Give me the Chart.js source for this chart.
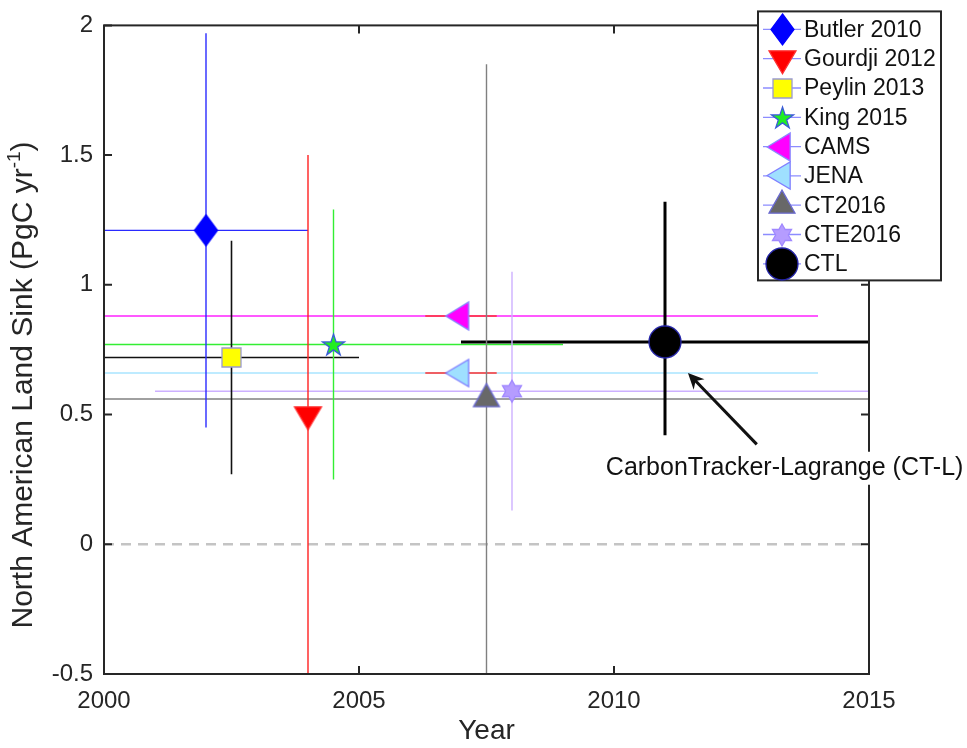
<!DOCTYPE html>
<html>
<head>
<meta charset="utf-8">
<script src="https://cdn.jsdelivr.net/npm/chart.js@4.4.1/dist/chart.umd.min.js"></script>
<style>
  html, body { margin: 0; padding: 0; background: #fff; }
  canvas { display: block; }
</style>
</head>
<body>
<canvas id="sink" width="967" height="748"></canvas>
<script>
// ---- Estimates of the North American land carbon sink ----
const studies    = ['Butler 2010', 'Gourdji 2012', 'Peylin 2013', 'King 2015', 'CAMS', 'JENA', 'CT2016', 'CTE2016', 'CTL'];
const centerYear = [2002, 2004, 2002.5, 2004.5, 2007, 2007, 2007.5, 2008, 2011];
const sinkMean   = [1.21, 0.50, 0.72, 0.77, 0.88, 0.66, 0.56, 0.59, 0.78];
const sinkLow    = [0.45, -0.50, 0.27, 0.25, null, null, -0.73, 0.13, 0.42];
const sinkHigh   = [1.97, 1.50, 1.17, 1.29, null, null, 1.85, 1.05, 1.32];
const periodFrom = [2000, null, 2000, 2000, 2000, 2000, 2000, 2001, 2007];
const periodTo   = [2004, null, 2005, 2009, 2014, 2014, 2015, 2015, 2015];
// short red spans around the CAMS and JENA estimates
const spanFrom   = [null, null, null, null, 2006.3, 2006.3, null, null, null];
const spanTo     = [null, null, null, null, 2007.7, 2007.7, null, null, null];

const xTickValues = [2000, 2005, 2010, 2015];
const yTickValues = [-0.5, 0, 0.5, 1, 1.5, 2];
const xRange = [2000, 2015];
const yRange = [-0.5, 2];

const annotationText = 'CarbonTracker-Lagrange (CT-L)';
const arrowTail = { x: 2012.8, y: 0.385 };
const arrowHead = { x: 2011.45, y: 0.66 };
const annotationAnchor = { x: 2009.84, y: 0.295 };

// ---- styles ----
const FONT = '"Liberation Sans", Arial, Helvetica, sans-serif';
const AXIS_INK = '#262626';
const styles = [
  { shape: 'diamond', w: 23, h: 31, fill: '#0000ff', edge: '#0000ff', line: '#2a2aff', lw: 1.4 },
  { shape: 'triDown', w: 27, h: 23, fill: '#ff0000', edge: '#ff3030', line: '#ff2020', lw: 1.4 },
  { shape: 'square',  w: 19, h: 19, fill: '#ffff00', edge: '#9a9ad0', line: '#111111', lw: 1.6 },
  { shape: 'star5',   w: 23, h: 23, fill: '#22ee22', edge: '#3a5ad8', line: '#33ee33', lw: 1.4 },
  { shape: 'triLeft', w: 23, h: 28, fill: '#ff00ff', edge: '#8a8aff', line: '#ff22ff', lw: 1.4 },
  { shape: 'triLeft', w: 23, h: 27, fill: '#9fe0ff', edge: '#8080ff', line: '#a8e4ff', lw: 1.4 },
  { shape: 'triUp',   w: 26, h: 23, fill: '#686868', edge: '#6a6ad0', line: '#808080', lw: 1.4 },
  { shape: 'star6',   w: 22, h: 22, fill: '#b59cff', edge: '#a088ff', line: '#cdb0ff', lw: 1.4 },
  { shape: 'circle',  w: 32, h: 32, fill: '#000000', edge: '#2424a8', line: '#000000', lw: 3 }
];

function starPath(g, cx, cy, n, R, r) {
  for (let k = 0; k < 2 * n; k++) {
    const rad = k % 2 ? r : R;
    const a = -Math.PI / 2 + k * Math.PI / n;
    const px = cx + rad * Math.cos(a), py = cy + rad * Math.sin(a);
    if (k) g.lineTo(px, py); else g.moveTo(px, py);
  }
}

// Builds a marker image; triangles are placed so their centroid is the image centre.
function markerCanvas(s) {
  const pad = 3;
  let cw = s.w + 2 * pad, ch = s.h + 2 * pad;
  if (s.shape === 'triDown' || s.shape === 'triUp') ch = Math.round(s.h * 4 / 3) + 2 * pad;
  if (s.shape === 'triLeft') cw = Math.round(s.w * 4 / 3) + 2 * pad;
  const c = document.createElement('canvas');
  c.width = cw; c.height = ch;
  const g = c.getContext('2d');
  const cx = cw / 2, cy = ch / 2, w = s.w, h = s.h;
  g.beginPath();
  switch (s.shape) {
    case 'diamond':
      g.moveTo(cx, cy - h / 2); g.lineTo(cx + w / 2, cy); g.lineTo(cx, cy + h / 2); g.lineTo(cx - w / 2, cy); break;
    case 'square':
      g.rect(cx - w / 2, cy - h / 2, w, h); break;
    case 'circle':
      g.arc(cx, cy, w / 2, 0, Math.PI * 2); break;
    case 'triDown':
      g.moveTo(cx - w / 2, cy - h / 3); g.lineTo(cx + w / 2, cy - h / 3); g.lineTo(cx, cy + 2 * h / 3); break;
    case 'triUp':
      g.moveTo(cx, cy - 2 * h / 3); g.lineTo(cx + w / 2, cy + h / 3); g.lineTo(cx - w / 2, cy + h / 3); break;
    case 'triLeft':
      g.moveTo(cx - 2 * w / 3, cy); g.lineTo(cx + w / 3, cy - h / 2); g.lineTo(cx + w / 3, cy + h / 2); break;
    case 'star5':
      starPath(g, cx, cy + 1, 5, w / 2, w / 2 * 0.382); break;
    case 'star6':
      starPath(g, cx, cy, 6, w / 2, w / 2 * 0.577); break;
  }
  g.closePath();
  g.fillStyle = s.fill; g.fill();
  g.lineWidth = 1.3; g.strokeStyle = s.edge; g.stroke();
  return c;
}

// ---- datasets ----
const datasets = [];
studies.forEach((name, i) => {
  datasets.push({
    label: name,
    data: [{ x: centerYear[i], y: sinkMean[i] }],
    pointStyle: markerCanvas(styles[i]),
    pointRadius: 12,
    showLine: false,
    order: 0,
    isMarker: true
  });
});

function segment(label, pts, color, width, order, dash) {
  return {
    label, data: pts, showLine: true, borderColor: color, borderWidth: width,
    borderDash: dash || [], pointRadius: 0, tension: 0, fill: false, order
  };
}

// zero reference
datasets.push(segment('zero', [{ x: xRange[0], y: 0 }, { x: xRange[1], y: 0 }], '#c4c4c4', 2.6, 50, [10, 7]));

studies.forEach((name, i) => {
  const s = styles[i];
  if (periodFrom[i] !== null) {
    datasets.push(segment(name + ' period',
      [{ x: periodFrom[i], y: sinkMean[i] }, { x: periodTo[i], y: sinkMean[i] }],
      s.line, s.lw, 20 - i));
  }
  if (sinkLow[i] !== null) {
    datasets.push(segment(name + ' uncertainty',
      [{ x: centerYear[i], y: sinkLow[i] }, { x: centerYear[i], y: sinkHigh[i] }],
      s.line, s.lw, 10 - i));
  }
  if (spanFrom[i] !== null) {
    datasets.push(segment(name + ' span',
      [{ x: spanFrom[i], y: sinkMean[i] }, { x: spanTo[i], y: sinkMean[i] }],
      '#ff3030', 1.4, 5));
  }
});

// ---- axes frame, labels, legend and annotation ----
const decorations = {
  id: 'decorations',
  afterDraw(chart) {
    const { ctx, chartArea: a, scales: { x, y } } = chart;
    ctx.save();

    // axes box with inward ticks
    ctx.strokeStyle = AXIS_INK;
    ctx.lineWidth = 2;
    ctx.strokeRect(a.left, a.top, a.right - a.left, a.bottom - a.top);
    const tl = 8;
    ctx.beginPath();
    xTickValues.forEach(v => {
      const px = x.getPixelForValue(v);
      ctx.moveTo(px, a.bottom); ctx.lineTo(px, a.bottom - tl);
      ctx.moveTo(px, a.top); ctx.lineTo(px, a.top + tl);
    });
    yTickValues.forEach(v => {
      const py = y.getPixelForValue(v);
      ctx.moveTo(a.left, py); ctx.lineTo(a.left + tl, py);
      ctx.moveTo(a.right, py); ctx.lineTo(a.right - tl, py);
    });
    ctx.stroke();

    // y-axis title with superscript unit
    ctx.save();
    ctx.translate(24, 385);
    ctx.rotate(-Math.PI / 2);
    ctx.fillStyle = AXIS_INK;
    ctx.textBaseline = 'middle';
    const big = '30px ' + FONT, small = '19px ' + FONT;
    const t1 = 'North American Land Sink (PgC yr', t2 = '-1', t3 = ')';
    ctx.font = big; const w1 = ctx.measureText(t1).width, w3 = ctx.measureText(t3).width;
    ctx.font = small; const w2 = ctx.measureText(t2).width;
    let sx = -(w1 + w2 + w3) / 2;
    ctx.font = big; ctx.textAlign = 'left'; ctx.fillText(t1, sx, 0); sx += w1;
    ctx.font = small; ctx.fillText(t2, sx, -9); sx += w2;
    ctx.font = big; ctx.fillText(t3, sx, 0);
    ctx.restore();

    // annotation with arrow
    ctx.font = '25px ' + FONT;
    ctx.textBaseline = 'middle';
    ctx.textAlign = 'left';
    const ax = x.getPixelForValue(annotationAnchor.x), ay = y.getPixelForValue(annotationAnchor.y);
    const tw = ctx.measureText(annotationText).width;
    ctx.fillStyle = '#fff';
    ctx.fillRect(ax - 4, ay - 16, tw + 8, 33);
    ctx.fillStyle = '#111';
    ctx.fillText(annotationText, ax, ay);

    const x0 = x.getPixelForValue(arrowTail.x), y0 = y.getPixelForValue(arrowTail.y);
    const x1 = x.getPixelForValue(arrowHead.x), y1 = y.getPixelForValue(arrowHead.y);
    const ang = Math.atan2(y1 - y0, x1 - x0);
    const c = Math.cos(ang), s = Math.sin(ang);
    ctx.strokeStyle = '#111'; ctx.fillStyle = '#111'; ctx.lineWidth = 3;
    ctx.beginPath(); ctx.moveTo(x0, y0); ctx.lineTo(x1 - c * 9, y1 - s * 9); ctx.stroke();
    const L = 16, W = 7.5, back = 11;
    ctx.beginPath();
    ctx.moveTo(x1, y1);
    ctx.lineTo(x1 - c * L - s * W, y1 - s * L + c * W);
    ctx.lineTo(x1 - c * back, y1 - s * back);
    ctx.lineTo(x1 - c * L + s * W, y1 - s * L - c * W);
    ctx.closePath(); ctx.fill();

    // legend box
    const markers = chart.data.datasets.filter(d => d.isMarker);
    const lx = a.right - 111, ly = a.top - 14, lw = 183, lh = 269;
    ctx.fillStyle = '#fff';
    ctx.fillRect(lx, ly, lw, lh);
    ctx.strokeStyle = AXIS_INK; ctx.lineWidth = 2;
    ctx.strokeRect(lx, ly, lw, lh);
    ctx.font = '23px ' + FONT;
    ctx.textBaseline = 'middle'; ctx.textAlign = 'left';
    markers.forEach((d, i) => {
      const ry = ly + 18 + i * 29.3;
      ctx.strokeStyle = '#8c8cff'; ctx.lineWidth = 1.3;
      ctx.beginPath(); ctx.moveTo(lx + 5, ry); ctx.lineTo(lx + 43, ry); ctx.stroke();
      const img = d.pointStyle;
      ctx.drawImage(img, Math.round(lx + 24 - img.width / 2), Math.round(ry - img.height / 2));
      ctx.fillStyle = '#111';
      ctx.fillText(d.label, lx + 46, ry + 1);
    });

    ctx.restore();
  }
};

Chart.defaults.font.family = FONT;

new Chart(document.getElementById('sink'), {
  type: 'scatter',
  data: { datasets },
  options: {
    responsive: false,
    animation: false,
    events: [],
    layout: { padding: { top: 19, right: 98, left: 0, bottom: 0 } },
    plugins: { legend: { display: false }, tooltip: { enabled: false } },
    scales: {
      x: {
        type: 'linear', min: xRange[0], max: xRange[1],
        afterBuildTicks: s => { s.ticks = xTickValues.map(v => ({ value: v })); },
        afterFit: s => { s.height = 74; },
        grid: { display: false, drawTicks: false },
        border: { display: false },
        ticks: { color: AXIS_INK, font: { size: 24 }, padding: 13, maxRotation: 0, callback: v => String(v) },
        title: { display: true, text: 'Year', color: AXIS_INK, font: { size: 28 }, padding: { top: 0, bottom: 0 } }
      },
      y: {
        type: 'linear', min: yRange[0], max: yRange[1],
        afterBuildTicks: s => { s.ticks = yTickValues.map(v => ({ value: v })); },
        afterFit: s => { s.width = 104; },
        grid: { display: false, drawTicks: false },
        border: { display: false },
        ticks: { color: AXIS_INK, font: { size: 24 }, padding: 11, callback: v => String(v) }
      }
    }
  },
  plugins: [decorations]
});
</script>
</body>
</html>
